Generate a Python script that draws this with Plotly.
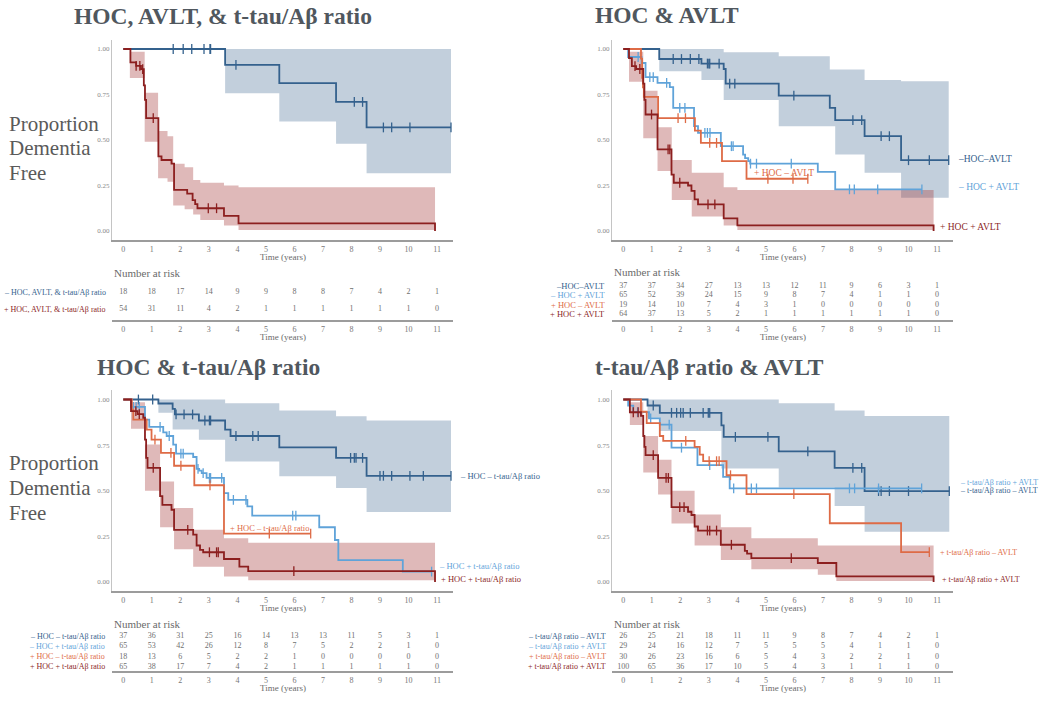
import plotly.graph_objects as go

W, H = 1050, 701

# ---------------- colours ----------------
C_DB = "#34618d"
C_LB = "#5fa3d9"
C_OR = "#de6b46"
C_DR = "#8c1f1f"
BAND_B = "rgba(52,96,140,0.30)"
BAND_R = "rgba(165,60,60,0.36)"
TXT = "#6a6a6a"
TITLE_C = "#50575e"

YEARS = list(range(12))
Y_TICKS = [0, 0.25, 0.5, 0.75, 1.0]
Y_TICKTEXT = ["0.00", "0.25", "0.50", "0.75", "1.00"]

TITLES = ["HOC, AVLT, &amp; t-tau/Aβ ratio", "HOC &amp; AVLT",
          "HOC &amp; t-tau/Aβ ratio", "t-tau/Aβ ratio &amp; AVLT"]

# =============== Panel 1: HOC, AVLT, & t-tau/Ab ratio ===============
p1_neg_t = [3.57, 5.47, 7.46, 8.53]
p1_neg_s = [0.913, 0.812, 0.709, 0.569]
p1_neg_end = 11.49
p1_neg_cens = [1.75, 2.1, 2.4, 2.83, 3.04, 3.06, 3.95, 8.1, 8.39, 9.12, 9.41, 10.05, 11.49]
p1_neg_bt = [3.57, 5.47, 7.46, 8.53]
p1_neg_lo = [0.757, 0.602, 0.479, 0.317]
p1_neg_hi = [1.0, 1.0, 1.0, 1.0]

p1_pos_t = [0.25, 0.45, 0.62, 0.72, 0.76, 0.80, 1.23, 1.34, 1.69, 1.78, 2.24, 2.43, 2.52, 2.60, 3.53, 4.04, 10.93]
p1_pos_s = [0.926, 0.907, 0.889, 0.80, 0.72, 0.62, 0.41, 0.39, 0.37, 0.226, 0.205, 0.17, 0.148, 0.125, 0.083, 0.042, 0.0]
p1_pos_end = 10.93
p1_pos_cens = [0.45, 0.58, 0.68, 1.05, 2.98, 3.27]
p1_pos_bt = [0.23, 0.75, 1.22, 1.55, 1.75, 2.15, 2.45, 2.7, 3.53, 4.04]
p1_pos_lo = [0.84, 0.49, 0.29, 0.27, 0.14, 0.12, 0.09, 0.06, 0.03, 0.006]
p1_pos_hi = [0.985, 0.76, 0.55, 0.52, 0.37, 0.35, 0.28, 0.265, 0.25, 0.24]

p1_risk_labels = ["– HOC, AVLT, &amp; t-tau/Aβ ratio", "+ HOC, AVLT, &amp; t-tau/Aβ ratio"]
p1_risk = [[18, 18, 17, 14, 9, 9, 8, 8, 7, 4, 2, 1],
           [54, 31, 11, 4, 2, 1, 1, 1, 1, 1, 1, 0]]

# =============== Panel 2: HOC & AVLT ===============
p2_a_t = [1.26, 2.74, 3.52, 3.59, 5.45, 7.24, 7.43, 8.46, 9.74]
p2_a_s = [0.945, 0.92, 0.89, 0.81, 0.744, 0.676, 0.609, 0.521, 0.389]
p2_a_end = 11.41
p2_a_cens = [1.75, 2.04, 2.35, 2.65, 2.95, 3.0, 3.03, 3.36, 3.73, 3.91, 5.98, 8.05, 8.36, 9.04, 9.33, 10.0, 10.73, 11.41]
p2_a_bt = [1.26, 2.74, 3.52, 5.45, 7.24, 7.43, 8.46, 9.74]
p2_a_lo = [0.878, 0.83, 0.72, 0.576, 0.576, 0.42, 0.32, 0.183]
p2_a_hi = [1.0, 1.0, 0.982, 0.96, 0.887, 0.887, 0.83, 0.823]

p2_b_t = [0.17, 0.64, 0.78, 1.2, 1.63, 1.75, 2.48, 2.62, 3.42, 4.2, 4.27, 4.38, 4.45, 6.82, 7.43]
p2_b_s = [0.956, 0.923, 0.845, 0.814, 0.79, 0.676, 0.576, 0.539, 0.466, 0.42, 0.40, 0.384, 0.37, 0.325, 0.229]
p2_b_end = 10.47
p2_b_cens = [0.52, 0.93, 1.05, 1.52, 1.98, 2.16, 2.86, 2.95, 3.04, 3.79, 3.85, 4.46, 4.67, 5.89, 7.93, 8.1, 8.92, 10.47]

p2_c_t = [0.62, 0.66, 0.69, 0.72, 1.22, 2.51, 2.72, 3.46, 4.32]
p2_c_s = [0.947, 0.842, 0.789, 0.737, 0.62, 0.552, 0.484, 0.384, 0.287]
p2_c_end = 6.47
p2_c_cens = [1.92, 2.18, 3.03, 3.27, 5.07, 5.95, 6.47]

p2_d_t = [0.2, 0.3, 0.45, 0.7, 0.74, 0.78, 1.2, 1.69, 1.77, 2.27, 2.39, 2.5, 2.62, 3.52, 4.0, 10.88]
p2_d_s = [0.95, 0.906, 0.89, 0.81, 0.72, 0.64, 0.448, 0.31, 0.265, 0.25, 0.22, 0.174, 0.146, 0.069, 0.031, 0.0]
p2_d_end = 10.88
p2_d_cens = [0.41, 0.58, 0.99, 1.57, 1.63, 1.98, 2.97, 3.21]
p2_d_bt = [0.2, 0.7, 1.2, 1.7, 2.4, 3.52, 4.0]
p2_d_lo = [0.82, 0.51, 0.33, 0.17, 0.08, 0.03, 0.005]
p2_d_hi = [0.985, 0.77, 0.57, 0.39, 0.32, 0.24, 0.225]

p2_risk_labels = ["–HOC–AVLT", "– HOC + AVLT", "+ HOC – AVLT", "+ HOC + AVLT"]
p2_risk = [[37, 37, 34, 27, 13, 13, 12, 11, 9, 6, 3, 1],
           [65, 52, 39, 24, 15, 9, 8, 7, 4, 1, 1, 0],
           [19, 14, 10, 7, 4, 3, 1, 0, 0, 0, 0, 0],
           [64, 37, 13, 5, 2, 1, 1, 1, 1, 1, 1, 0]]

# =============== Panel 3: HOC & t-tau/Ab ratio ===============
p3_a_t = [1.23, 1.73, 1.81, 2.65, 3.57, 3.76, 5.47, 7.46, 8.53]
p3_a_s = [0.978, 0.949, 0.918, 0.885, 0.835, 0.80, 0.738, 0.68, 0.582]
p3_a_end = 11.49
p3_a_cens = [0.53, 1.03, 1.85, 2.13, 2.43, 2.86, 3.02, 3.06, 3.95, 4.54, 4.73, 7.97, 8.1, 8.16, 8.39,
             9.0, 9.12, 9.41, 10.05, 10.52, 11.49]
p3_a_bt = [1.23, 1.73, 2.65, 3.57, 5.47, 7.46, 8.53]
p3_a_lo = [0.927, 0.835, 0.78, 0.66, 0.58, 0.515, 0.383]
p3_a_hi = [1.0, 1.0, 1.0, 0.98, 0.94, 0.908, 0.885]

p3_b_t = [0.27, 0.76, 0.91, 1.4, 1.52, 1.75, 1.85, 2.45, 2.57, 2.66, 2.75, 2.92, 3.53, 3.68, 4.35, 4.52,
          6.87, 7.42, 7.54, 9.8]
p3_b_s = [0.96, 0.89, 0.85, 0.82, 0.80, 0.753, 0.703, 0.685, 0.62, 0.61, 0.597, 0.57, 0.487, 0.45, 0.414,
          0.364, 0.30, 0.23, 0.12, 0.057]
p3_b_end = 10.81
p3_b_cens = [0.35, 0.45, 0.56, 1.29, 1.61, 2.02, 2.1, 2.62, 2.8, 3.02, 3.06, 3.45, 3.86, 4.3, 5.94, 6.05, 10.81]

p3_c_t = [0.3, 0.35, 0.82, 0.99, 1.32, 1.78, 2.49, 3.53]
p3_c_s = [0.944, 0.89, 0.835, 0.78, 0.707, 0.637, 0.53, 0.265]
p3_c_end = 6.57
p3_c_cens = [1.11, 1.67, 2.02, 3.04, 5.12, 6.57]

p3_d_t = [0.27, 0.5, 0.7, 0.76, 0.8, 0.85, 1.29, 1.37, 1.69, 1.78, 2.45, 2.57, 2.69, 2.8, 3.53, 4.07, 4.38, 10.93]
p3_d_s = [0.936, 0.92, 0.9, 0.78, 0.68, 0.625, 0.47, 0.423, 0.396, 0.286, 0.26, 0.2, 0.176, 0.163, 0.126,
          0.084, 0.06, 0.0]
p3_d_end = 10.93
p3_d_cens = [0.44, 0.56, 1.05, 2.26, 3.02, 3.27, 3.33, 5.98]
p3_d_bt = [0.27, 0.76, 1.29, 1.78, 2.45, 3.53, 4.38]
p3_d_lo = [0.84, 0.5, 0.3, 0.18, 0.084, 0.03, 0.01]
p3_d_hi = [0.985, 0.753, 0.55, 0.405, 0.286, 0.24, 0.215]

p3_risk_labels = ["– HOC – t-tau/Aβ ratio", "– HOC + t-tau/Aβ ratio",
                  "+ HOC – t-tau/Aβ ratio", "+ HOC + t-tau/Aβ ratio"]
p3_risk = [[37, 36, 31, 25, 16, 14, 13, 13, 11, 5, 3, 1],
           [65, 53, 42, 26, 12, 8, 7, 5, 2, 2, 1, 0],
           [18, 13, 6, 5, 2, 2, 1, 0, 0, 0, 0, 0],
           [65, 38, 17, 7, 4, 2, 1, 1, 1, 1, 1, 0]]

# =============== Panel 4: t-tau/Ab ratio & AVLT ===============
p4_a_t = [0.85, 1.28, 3.44, 3.52, 5.45, 7.41, 8.46]
p4_a_s = [0.967, 0.927, 0.858, 0.795, 0.716, 0.625, 0.498]
p4_a_end = 11.43
p4_a_cens = [1.05, 1.69, 1.87, 2.01, 2.1, 2.35, 2.8, 2.98, 3.03, 3.93, 5.07, 6.47, 8.05, 8.36, 8.95, 9.04,
             9.33, 10.0, 11.43]
p4_a_bt = [0.85, 1.28, 3.44, 5.45, 7.41, 8.46]
p4_a_lo = [0.9, 0.827, 0.622, 0.518, 0.416, 0.276]
p4_a_hi = [1.0, 1.0, 1.0, 0.98, 0.94, 0.91]

p4_b_t = [0.17, 0.35, 0.9, 1.28, 1.69, 2.6, 3.5, 3.73]
p4_b_s = [0.966, 0.931, 0.897, 0.862, 0.736, 0.64, 0.576, 0.513]
p4_b_end = 10.46
p4_b_cens = [0.5, 0.96, 1.61, 2.04, 3.03, 3.87, 4.49, 4.67, 7.93, 8.11, 8.95, 10.46]

p4_c_t = [0.62, 0.82, 1.28, 1.4, 2.5, 2.68, 2.8, 3.62, 4.32, 7.24, 9.74]
p4_c_s = [0.933, 0.87, 0.8, 0.773, 0.74, 0.698, 0.662, 0.585, 0.482, 0.322, 0.164]
p4_c_end = 10.73
p4_c_cens = [2.19, 3.01, 3.27, 3.36, 3.76, 5.98, 10.73]

p4_d_t = [0.23, 0.62, 0.7, 0.74, 0.78, 1.22, 1.69, 2.27, 2.39, 2.5, 2.62, 3.42, 4.26, 4.34, 4.49, 6.82, 7.47, 10.88]
p4_d_s = [0.93, 0.91, 0.8, 0.74, 0.695, 0.57, 0.41, 0.385, 0.367, 0.304, 0.282, 0.204, 0.17, 0.155, 0.131,
          0.104, 0.031, 0.0]
p4_d_end = 10.88
p4_d_cens = [0.35, 0.52, 1.05, 1.5, 1.58, 1.98, 2.13, 2.95, 3.03, 3.27, 3.79, 5.89]
p4_d_bt = [0.23, 0.7, 1.22, 1.69, 2.5, 3.42, 4.49, 6.82, 7.47]
p4_d_lo = [0.86, 0.6, 0.48, 0.32, 0.2, 0.12, 0.07, 0.04, 0.005]
p4_d_hi = [0.985, 0.8, 0.67, 0.5, 0.37, 0.30, 0.24, 0.2, 0.2]

p4_risk_labels = ["– t-tau/Aβ ratio – AVLT", "– t-tau/Aβ ratio + AVLT",
                  "+ t-tau/Aβ ratio – AVLT", "+ t-tau/Aβ ratio + AVLT"]
p4_risk = [[26, 25, 21, 18, 11, 11, 9, 8, 7, 4, 2, 1],
           [29, 24, 16, 12, 7, 5, 5, 5, 4, 1, 1, 0],
           [30, 26, 23, 16, 6, 5, 4, 3, 2, 2, 1, 0],
           [100, 65, 36, 17, 10, 5, 4, 3, 1, 1, 1, 0]]

# curve-end labels: (text, x[years], y[survival], colour)
p2_curve_labels = [("–HOC–AVLT", 11.68, 0.395, C_DB), ("– HOC + AVLT", 11.68, 0.24, C_LB),
                   ("+ HOC – AVLT", 4.5, 0.321, C_OR), ("+ HOC + AVLT", 11.02, 0.02, C_DR)]
p3_curve_labels = [("– HOC – t-tau/Aβ ratio", 11.74, 0.582, C_DB), ("+ HOC – t-tau/Aβ ratio", 3.67, 0.298, C_OR),
                   ("– HOC + t-tau/Aβ ratio", 11.0, 0.088, C_LB), ("+ HOC + t-tau/Aβ ratio", 11.07, 0.016, C_DR)]
p4_curve_labels = [("– t-tau/Aβ ratio + AVLT", 11.72, 0.546, C_LB), ("– t-tau/Aβ ratio – AVLT", 11.72, 0.502, C_DB),
                   ("+ t-tau/Aβ ratio – AVLT", 11.04, 0.164, C_OR), ("+ t-tau/Aβ ratio + AVLT", 11.1, 0.016, C_DR)]

# ---------------- assemble data per panel ----------------
PANELS = [
    dict(bands=[(p1_neg_bt, p1_neg_lo, p1_neg_hi, p1_neg_end, BAND_B),
                (p1_pos_bt, p1_pos_lo, p1_pos_hi, p1_pos_end, BAND_R)],
         curves=[(p1_neg_t, p1_neg_s, p1_neg_end, p1_neg_cens, C_DB),
                 (p1_pos_t, p1_pos_s, p1_pos_end, p1_pos_cens, C_DR)],
         risk=p1_risk, risk_labels=p1_risk_labels, risk_colors=[C_DB, C_DR], labels=[]),
    dict(bands=[(p2_a_bt, p2_a_lo, p2_a_hi, p2_a_end, BAND_B),
                (p2_d_bt, p2_d_lo, p2_d_hi, p2_d_end, BAND_R)],
         curves=[(p2_a_t, p2_a_s, p2_a_end, p2_a_cens, C_DB),
                 (p2_b_t, p2_b_s, p2_b_end, p2_b_cens, C_LB),
                 (p2_c_t, p2_c_s, p2_c_end, p2_c_cens, C_OR),
                 (p2_d_t, p2_d_s, p2_d_end, p2_d_cens, C_DR)],
         risk=p2_risk, risk_labels=p2_risk_labels, risk_colors=[C_DB, C_LB, C_OR, C_DR],
         labels=p2_curve_labels),
    dict(bands=[(p3_a_bt, p3_a_lo, p3_a_hi, p3_a_end, BAND_B),
                (p3_d_bt, p3_d_lo, p3_d_hi, p3_d_end, BAND_R)],
         curves=[(p3_a_t, p3_a_s, p3_a_end, p3_a_cens, C_DB),
                 (p3_b_t, p3_b_s, p3_b_end, p3_b_cens, C_LB),
                 (p3_c_t, p3_c_s, p3_c_end, p3_c_cens, C_OR),
                 (p3_d_t, p3_d_s, p3_d_end, p3_d_cens, C_DR)],
         risk=p3_risk, risk_labels=p3_risk_labels, risk_colors=[C_DB, C_LB, C_OR, C_DR],
         labels=p3_curve_labels),
    dict(bands=[(p4_a_bt, p4_a_lo, p4_a_hi, p4_a_end, BAND_B),
                (p4_d_bt, p4_d_lo, p4_d_hi, p4_d_end, BAND_R)],
         curves=[(p4_a_t, p4_a_s, p4_a_end, p4_a_cens, C_DB),
                 (p4_b_t, p4_b_s, p4_b_end, p4_b_cens, C_LB),
                 (p4_c_t, p4_c_s, p4_c_end, p4_c_cens, C_OR),
                 (p4_d_t, p4_d_s, p4_d_end, p4_d_cens, C_DR)],
         risk=p4_risk, risk_labels=p4_risk_labels, risk_colors=[C_DB, C_LB, C_OR, C_DR],
         labels=p4_curve_labels),
]

# ---------------- geometry (pixels) ----------------
GEO = [
    dict(x0=112, x1=453, ytop=40, ybot=240, y1px=49, y0px=231, rtop=282, rbot=320, rrow0=292, rd=17.0,
         nar_y=273, title_x=72, title_y=16, lab_x=108, prop=[124, 148, 173], lab_fs=9.5, risk_fs=8),
    dict(x0=612, x1=953, ytop=40, ybot=240, y1px=49, y0px=231, rtop=280, rbot=320, rrow0=286, rd=9.33,
         nar_y=272, title_x=593, title_y=15, lab_x=607, prop=None, lab_fs=9.5, risk_fs=8.5),
    dict(x0=112, x1=453, ytop=390, ybot=591, y1px=399.5, y0px=582, rtop=628, rbot=671, rrow0=636, rd=10.33,
         nar_y=624, title_x=95, title_y=367, lab_x=107, prop=[463, 488, 513], lab_fs=8.5, risk_fs=8),
    dict(x0=612, x1=953, ytop=390, ybot=591, y1px=399.5, y0px=582, rtop=628, rbot=671, rrow0=636, rd=10.33,
         nar_y=624, title_x=593, title_y=367, lab_x=608, prop=None, lab_fs=8, risk_fs=8),
]
X0PX_OFF = 11.3      # px from axis line to year 0
PX_PER_YEAR = 28.52


def fx(px):
    return px / W


def fy(py):
    return 1 - py / H


def step_xy(t, s, end):
    return [0.0] + list(t) + [end], [1.0] + list(s) + [s[-1]]


def surv_at(t, s, c):
    v = 1.0
    for ti, si in zip(t, s):
        if ti <= c:
            v = si
    return v


SERIF = "Liberation Serif"
fig = go.Figure()
annotations = []
layout_axes = {}

for k, (P, G) in enumerate(zip(PANELS, GEO)):
    n = k + 1
    r = k + 5
    xa, ya = ("x", "y") if n == 1 else (f"x{n}", f"y{n}")
    xr, yr = f"x{r}", f"y{r}"

    dom_w = G["x1"] - G["x0"]
    xr0 = -X0PX_OFF / PX_PER_YEAR
    xrange = [xr0, xr0 + dom_w / PX_PER_YEAR]
    per = G["y0px"] - G["y1px"]
    yrange = [-(G["ybot"] - G["y0px"]) / per, 1 + (G["y1px"] - G["ytop"]) / per]

    def xdom(v, xrange=xrange):
        return (v - xrange[0]) / (xrange[1] - xrange[0])

    # confidence bands
    for bt, lo, hi, end, col in P["bands"]:
        fig.add_trace(go.Scatter(x=list(bt) + [end], y=list(lo) + [lo[-1]], mode="lines",
                                 line=dict(width=0, shape="hv"), xaxis=xa, yaxis=ya,
                                 hoverinfo="skip", showlegend=False))
        fig.add_trace(go.Scatter(x=list(bt) + [end], y=list(hi) + [hi[-1]], mode="lines",
                                 line=dict(width=0, shape="hv"), fill="tonexty", fillcolor=col,
                                 xaxis=xa, yaxis=ya, hoverinfo="skip", showlegend=False))
    # curves
    for t, s, end, cens, col in P["curves"]:
        x, y = step_xy(t, s, end)
        fig.add_trace(go.Scatter(x=x, y=y, mode="lines", line=dict(color=col, width=1.8, shape="hv"),
                                 xaxis=xa, yaxis=ya, showlegend=False, hoverinfo="skip"))
        fig.add_trace(go.Scatter(x=cens, y=[surv_at(t, s, c) for c in cens], mode="markers",
                                 marker=dict(symbol="line-ns-open", size=7, color=col,
                                             line=dict(color=col, width=1.3)),
                                 xaxis=xa, yaxis=ya, showlegend=False, hoverinfo="skip", cliponaxis=False))
    # curve labels
    for txt, lx, ly, col in P["labels"]:
        annotations.append(dict(text=txt, x=xdom(lx), y=ly, xref=f"{xa} domain", yref=ya,
                                xanchor="left", yanchor="middle",
                                showarrow=False, font=dict(family=SERIF, size=G["lab_fs"], color=col)))

    # risk table
    d = G["rd"]
    ry_range = [-(G["rbot"] - G["rrow0"]) / d, (G["rrow0"] - G["rtop"]) / d]
    for i, row in enumerate(P["risk"]):
        fig.add_trace(go.Scatter(x=YEARS, y=[-i] * len(YEARS), mode="text", text=[str(v) for v in row],
                                 textfont=dict(family=SERIF, size=8, color="#707070"),
                                 xaxis=xr, yaxis=yr, showlegend=False, hoverinfo="skip", cliponaxis=False))
        annotations.append(dict(text=P["risk_labels"][i], x=fx(G["lab_x"]), y=-i, xref="paper", yref=yr,
                                xanchor="right", yanchor="middle", showarrow=False,
                                font=dict(family=SERIF, size=G["risk_fs"], color=P["risk_colors"][i])))

    axis_common = dict(showgrid=False, zeroline=False, ticks="", fixedrange=True)
    layout_axes["xaxis" if n == 1 else f"xaxis{n}"] = dict(
        domain=[fx(G["x0"]), fx(G["x1"])], range=xrange, anchor=ya, showline=True,
        linecolor="#9c9c9c", linewidth=2, tickvals=YEARS, tickfont=dict(family=SERIF, size=8, color="#777"),
        **axis_common)
    layout_axes["yaxis" if n == 1 else f"yaxis{n}"] = dict(
        domain=[fy(G["ybot"]), fy(G["ytop"])], range=yrange, anchor=xa, showline=True,
        linecolor="#c4c4c4", linewidth=1, tickvals=Y_TICKS, ticktext=Y_TICKTEXT,
        tickfont=dict(family=SERIF, size=7, color="#888"), **axis_common)
    layout_axes[f"xaxis{r}"] = dict(
        domain=[fx(G["x0"]), fx(G["x1"])], range=xrange, anchor=yr, showline=True,
        linecolor="#9c9c9c", linewidth=2, tickvals=YEARS, tickfont=dict(family=SERIF, size=8, color="#777"),
        **axis_common)
    layout_axes[f"yaxis{r}"] = dict(domain=[fy(G["rbot"]), fy(G["rtop"])], range=ry_range, anchor=xr,
                                    visible=False, **axis_common)

    # "Time (years)" titles
    for axn, base in ((xa, G["ybot"]), (xr, G["rbot"])):
        annotations.append(dict(text="Time (years)", x=0.5, y=fy(base + 17), xref=f"{axn} domain",
                                yref="paper", xanchor="center", yanchor="middle", showarrow=False,
                                font=dict(family=SERIF, size=9, color=TXT)))
    # Number at risk
    annotations.append(dict(text="Number at risk", x=fx(G["x0"]), y=fy(G["nar_y"]), xref="paper",
                            yref="paper", xanchor="left", yanchor="middle", showarrow=False,
                            font=dict(family=SERIF, size=11, color=TXT)))
    # Title
    annotations.append(dict(text="<b>" + TITLES[k] + "</b>", x=fx(G["title_x"]), y=fy(G["title_y"]),
                            xref="paper", yref="paper", xanchor="left", yanchor="middle", showarrow=False,
                            font=dict(family=SERIF, size=23.5, color=TITLE_C)))
    # y-axis title
    if G["prop"]:
        for word, py in zip(["Proportion", "Dementia", "Free"], G["prop"]):
            annotations.append(dict(text=word, x=fx(7), y=fy(py), xref="paper", yref="paper",
                                    xanchor="left", yanchor="middle", showarrow=False,
                                    font=dict(family=SERIF, size=21, color="#5a5a5a")))

fig.update_layout(width=W, height=H, margin=dict(l=0, r=0, t=0, b=0), paper_bgcolor="white",
                  plot_bgcolor="white", showlegend=False, annotations=annotations, **layout_axes)
fig.write_html("out.html", config={"displayModeBar": False},
               post_script="document.body.style.margin='0';document.body.style.overflow='hidden';")
